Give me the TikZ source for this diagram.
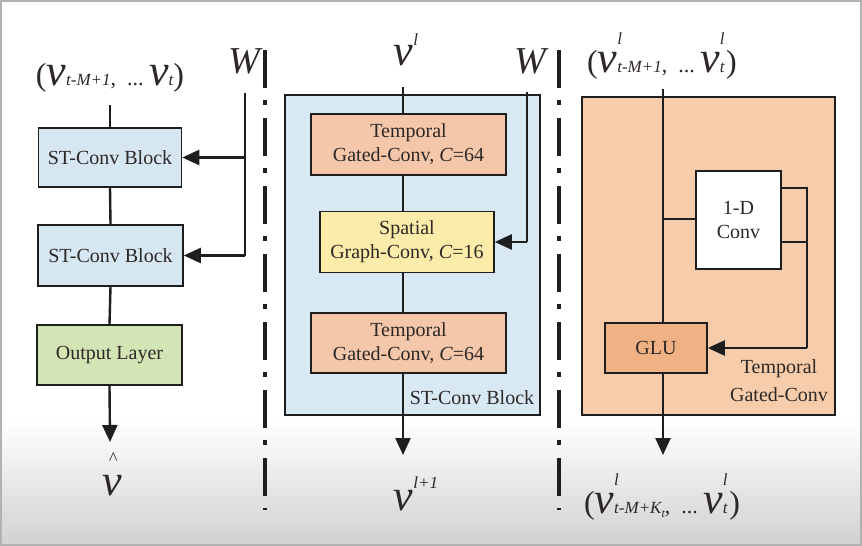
\documentclass[tikz,border=0pt]{standalone}
\usepackage{fontspec}
\setmainfont{Liberation Serif}
\usetikzlibrary{arrows.meta}
\definecolor{ln}{RGB}{30,30,30}
\definecolor{txt}{RGB}{45,40,38}
\definecolor{stblue}{RGB}{214,231,242}
\definecolor{bigblue}{RGB}{216,233,244}
\definecolor{tgorange}{RGB}{244,198,170}
\definecolor{spyellow}{RGB}{252,236,170}
\definecolor{outgreen}{RGB}{211,228,181}
\definecolor{rorange}{RGB}{246,204,170}
\definecolor{gluorange}{RGB}{240,178,132}
\newcommand{\bigv}{{\fontsize{44}{44}\selectfont\itshape v}}
\newcommand{\lpar}{{\fontsize{32}{32}\selectfont (}}
\newcommand{\rpar}{{\fontsize{32}{32}\selectfont )}}
\newcommand{\sbs}[1]{{\fontsize{17}{17}\selectfont\itshape #1}}
\newcommand{\cdts}{{\fontsize{22}{22}\selectfont,\ \ ...\ }}
\newcommand{\supsub}[2]{\rlap{\raisebox{28pt}{\sbs{#1}}}\sbs{#2}}
\begin{document}
\begin{tikzpicture}[x=1pt,y=-1pt,
  box/.style={draw=ln, line width=1.6pt, inner sep=0pt, align=center, text=txt,
    font=\fontsize{20}{24}\selectfont},
  wire/.style={draw=ln, line width=2.4pt},
  arr/.style={wire, -{Triangle[length=17pt,width=15pt]}},
  sepline/.style={draw=ln, line width=3.5pt, dash pattern=on 38pt off 12pt on 5pt off 13pt},
  lab/.style={inner sep=0pt, anchor=base, text=txt}]
\useasboundingbox (0,0) rectangle (862,546);
\fill[white] (0,0) rectangle (862,546);
\shade[top color=white, bottom color=black!18] (0,420) rectangle (862,546);
\draw[black!30, line width=2pt] (1,1) rectangle (861,545);

% separators
\draw[sepline] (265,50) -- (265,510);
\draw[sepline] (559,50) -- (559,510);

% ---------- left panel ----------
\node[lab] (inL) at (110,85) {\lpar\bigv\sbs{t-M+1}\cdts\bigv\sbs{t}\rpar};
\node[lab, font=\fontsize{38}{38}\selectfont\itshape] (W1) at (244,73) {W};
\node[box, fill=stblue, minimum width=143pt, minimum height=59pt] (stc1) at (110,157.5) {ST-Conv Block};
\node[box, fill=stblue, minimum width=145pt, minimum height=61pt] (stc2) at (110.5,255.5) {ST-Conv Block};
\node[box, fill=outgreen, minimum width=145pt, minimum height=60pt] (outl) at (109.5,355) {Output Layer};
\node[lab] (vhat) at (112,495) {\rlap{\hspace{7pt}\raisebox{31pt}{\fontsize{18}{18}\selectfont\textasciicircum}}\bigv};
\coordinate (lt) at (110,105);
\coordinate (lb) at (110,442);
\coordinate (wl) at (245,93);
\draw[wire] (lt) -- (stc1.north);
\draw[wire] (stc1.south) -- (stc2.north);
\draw[wire] (stc2.south) -- (outl.north);
\draw[arr] (outl.south) -- (lb);
\draw[wire] (wl) -- (wl |- stc2.east);
\draw[arr] (wl |- stc2.east) -- (stc2.east);
\draw[arr] (wl |- stc1.east) -- (stc1.east);

% ---------- middle panel ----------
\node[draw=ln, line width=1.6pt, fill=bigblue, minimum width=255pt, minimum height=320pt, inner sep=0pt] (blk) at (412.5,255) {};
\node[lab] (vl) at (406,65) {\bigv\raisebox{20pt}{\sbs{l}}};
\node[lab, font=\fontsize{38}{38}\selectfont\itshape] (W2) at (530,73) {W};
\node[box, fill=tgorange, minimum width=195pt, minimum height=61pt] (tg1) at (408.5,144.5) {Temporal\\Gated-Conv, \textit{C}=64};
\node[box, fill=spyellow, minimum width=174pt, minimum height=61pt] (sp) at (407,242) {Spatial\\Graph-Conv, \textit{C}=16};
\node[box, fill=tgorange, minimum width=195pt, minimum height=60pt] (tg2) at (408.5,343) {Temporal\\Gated-Conv, \textit{C}=64};
\node[inner sep=0pt, text=txt, font=\fontsize{20}{24}\selectfont] (blklab) at (472,398) {ST-Conv Block};
\node[lab] (vl1) at (416,510) {\bigv\raisebox{22pt}{\sbs{l+1}}};
\coordinate (mt) at (403,87);
\coordinate (mb) at (403,455);
\coordinate (wm) at (527,92);
\draw[wire] (mt) -- (mt |- tg1.north);
\draw[wire] (mt |- tg1.south) -- (mt |- sp.north);
\draw[wire] (mt |- sp.south) -- (mt |- tg2.north);
\draw[arr] (mt |- tg2.south) -- (mb);
\draw[wire] (wm) -- (wm |- sp.east);
\draw[arr] (wm |- sp.east) -- (sp.east);

% ---------- right panel ----------
\node[draw=ln, line width=1.6pt, fill=rorange, minimum width=253pt, minimum height=318pt, inner sep=0pt] (tgc) at (708.5,256) {};
\node[lab] (inR) at (662,72) {\lpar\bigv\supsub{l}{t-M+1}\cdts\bigv\supsub{l}{t}\,\rpar};
\node[box, fill=white, minimum width=85pt, minimum height=98pt] (c1d) at (738.5,220) {1-D\\Conv};
\node[box, fill=gluorange, minimum width=102pt, minimum height=50pt] (glu) at (656,348) {GLU};
\node[inner sep=0pt, align=center, text=txt, font=\fontsize{20}{28}\selectfont] (tgclab) at (779,381) {Temporal\\Gated-Conv};
\node[lab] (outR) at (662,513) {\lpar\bigv\supsub{l}{t-M+K\raisebox{-4pt}{\fontsize{12}{12}\selectfont\itshape t}}\cdts\bigv\supsub{l}{t}\,\rpar};
\coordinate (rt) at (663,89);
\coordinate (rb) at (663,455);
\coordinate (rs) at (663,219);
\coordinate (ra) at (807,188);
\coordinate (rc) at (807,242);
\draw[wire] (rt) -- (rt |- glu.north);
\draw[arr] (rt |- glu.south) -- (rb);
\draw[wire] (rs) -- (rs -| c1d.west);
\draw[wire] (ra -| c1d.east) -- (ra) -- (ra |- glu.east);
\draw[wire] (rc -| c1d.east) -- (rc);
\draw[arr] (ra |- glu.east) -- (glu.east);
\end{tikzpicture}
\end{document}
